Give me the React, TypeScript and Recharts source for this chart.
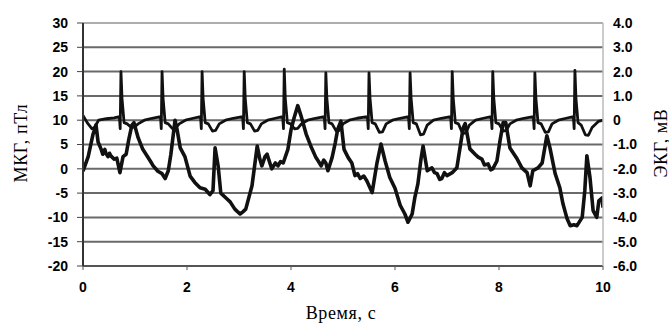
import React from "react";
import {
  LineChart,
  Line,
  XAxis,
  YAxis,
  CartesianGrid,
  ReferenceLine,
} from "recharts";

// МКГ trace, pT
const mcgTime = [
  0, 0.1, 0.19, 0.25, 0.29, 0.35, 0.38, 0.42, 0.44, 0.48, 0.51, 0.54, 0.6, 0.65,
  0.71, 0.77, 0.83, 0.88, 0.94, 0.98, 1.06, 1.15, 1.23, 1.3, 1.35, 1.44, 1.52,
  1.58, 1.64, 1.69, 1.77, 1.81, 1.87, 1.96, 2.06, 2.15, 2.25, 2.35, 2.44, 2.5,
  2.54, 2.6, 2.65, 2.75, 2.83, 2.92, 3.02, 3.08, 3.13, 3.25, 3.35, 3.4, 3.44,
  3.5, 3.54, 3.6, 3.63, 3.7, 3.75, 3.8, 3.85, 3.94, 4.0, 4.06, 4.13, 4.19, 4.29,
  4.38, 4.48, 4.53, 4.58, 4.63, 4.67, 4.71, 4.79, 4.85, 4.9, 4.96, 5.02, 5.1,
  5.17, 5.23, 5.28, 5.33, 5.4, 5.46, 5.56, 5.65, 5.73, 5.81, 5.9, 6.0, 6.1,
  6.19, 6.25, 6.33, 6.38, 6.44, 6.5, 6.54, 6.62, 6.71, 6.76, 6.81, 6.86, 6.9,
  6.95, 7.0, 7.1, 7.19, 7.25, 7.31, 7.35, 7.44, 7.54, 7.6, 7.67, 7.72, 7.79,
  7.84, 7.88, 7.96, 8.02, 8.08, 8.13, 8.21, 8.35, 8.44, 8.54, 8.6, 8.65, 8.75,
  8.83, 8.92, 8.98, 9.08, 9.17, 9.23, 9.31, 9.37, 9.44, 9.5, 9.6, 9.65, 9.69,
  9.75, 9.81, 9.88, 9.92, 9.98, 10,
];
const mcgValue = [
  -0.5, 2.5, 7, 9, 5.5, 4, 3, 4, 3.2, 2.5, 3.2, 2.6, 2, 2.2, -0.8, 2.5, 3, 6, 9,
  9.5, 6.4, 4, 2.7, 1.5, 0.6, -0.5, -1, -2, -0.4, 3, 10, 8, 4.3, 2.5, -1.5,
  -2.8, -3.9, -4.2, -5.3, -4.5, 4.3, 0.5, -5, -6, -6.8, -8.3, -9.3, -8.8, -8.3,
  -3.5, 4.7, 2, 0.6, 2.5, 3, 1, 0, 1.2, 0.6, 1.5, 1.2, 4, 8, 10.5, 13, 11, 7.2,
  4.7, 2.3, 1.5, 0.6, 1.8, 1.2, -0.4, 2.3, 5.3, 8.2, 9.8, 4, 2.3, 1.2, -1.4,
  -1, -2, -1.5, -2.5, -4.9, 1, 5.1, 1.6, -1.8, -4, -7.5, -9.3, -11, -9.3, -6,
  -3.1, 2, 4.7, -0.4, 0.2, -0.8, -1, -2.2, -2, -0.8, -1.4, -0.8, 0.2, 4.3, 8.4,
  9.3, 4.1, 3, 2.4, 2, 0.8, 1, -0.2, 0, 1.6, 5.8, 9.5, 9.5, 4.3, 2, 0.2, -0.8,
  -3.5, -0.4, 0.2, 1.2, 6.8, 4.3, -1, -3.9, -7.2, -10.3, -11.7, -11.5, -11.7,
  -10, -4.5, 2.7, -1.8, -8.6, -10, -6.6, -6, -8,
];

// ЭКГ trace, mV
const ecgTime = [
  0, 0.08, 0.17, 0.22, 0.3, 0.45, 0.6,
  0.7, 0.715, 0.73, 0.75, 0.77, 0.79, 0.85, 0.93, 0.99, 1.06, 1.18, 1.33,
  1.49, 1.505, 1.52, 1.54, 1.56, 1.58, 1.64, 1.72, 1.78, 1.85, 1.97, 2.12,
  2.26, 2.275, 2.29, 2.31, 2.33, 2.35, 2.41, 2.49, 2.55, 2.62, 2.74, 2.89,
  3.07, 3.085, 3.1, 3.12, 3.14, 3.16, 3.22, 3.3, 3.36, 3.43, 3.55, 3.7,
  3.84, 3.855, 3.87, 3.89, 3.91, 3.93, 3.99, 4.07, 4.13, 4.2, 4.32, 4.47,
  4.64, 4.655, 4.67, 4.69, 4.71, 4.73, 4.79, 4.87, 4.93, 5.0, 5.12, 5.27,
  5.47, 5.485, 5.5, 5.52, 5.54, 5.56, 5.62, 5.7, 5.76, 5.83, 5.95, 6.1,
  6.26, 6.275, 6.29, 6.31, 6.33, 6.35, 6.41, 6.49, 6.55, 6.62, 6.74, 6.89,
  7.07, 7.085, 7.1, 7.12, 7.14, 7.16, 7.22, 7.3, 7.36, 7.43, 7.55, 7.7,
  7.85, 7.865, 7.88, 7.9, 7.92, 7.94, 8.0, 8.08, 8.14, 8.21, 8.33, 8.48,
  8.66, 8.675, 8.69, 8.71, 8.73, 8.75, 8.81, 8.89, 8.95, 9.02, 9.14, 9.29,
  9.43, 9.445, 9.46, 9.48, 9.5, 9.52, 9.58, 9.66, 9.72, 9.79, 9.91, 10,
];
const ecgValue = [
  0.2, -0.1, -0.35, -0.3, 0.0, 0.06, 0.1,
  0.15, -0.35, 2.0, 0.9, 0.4, -0.1, -0.15, -0.3, -0.28, -0.15, 0.0, 0.08,
  0.15, -0.35, 2.0, 0.9, 0.4, -0.1, -0.15, -0.35, -0.33, -0.15, 0.0, 0.08,
  0.15, -0.35, 2.0, 0.9, 0.4, -0.1, -0.15, -0.45, -0.42, -0.15, 0.0, 0.08,
  0.15, -0.35, 2.0, 0.9, 0.4, -0.1, -0.15, -0.45, -0.42, -0.15, 0.0, 0.08,
  0.15, -0.35, 2.1, 0.9, 0.4, -0.1, -0.15, -0.36, -0.34, -0.15, 0.0, 0.08,
  0.15, -0.35, 1.95, 0.9, 0.4, -0.1, -0.15, -0.45, -0.42, -0.15, 0.0, 0.08,
  0.15, -0.35, 1.95, 0.9, 0.4, -0.1, -0.15, -0.5, -0.48, -0.15, 0.0, 0.08,
  0.15, -0.35, 1.95, 0.9, 0.4, -0.1, -0.15, -0.6, -0.57, -0.2, 0.0, 0.08,
  0.15, -0.35, 2.0, 0.9, 0.4, -0.1, -0.15, -0.55, -0.52, -0.2, 0.0, 0.08,
  0.15, -0.35, 2.0, 0.9, 0.4, -0.1, -0.15, -0.45, -0.42, -0.15, 0.0, 0.08,
  0.15, -0.35, 1.95, 0.9, 0.4, -0.1, -0.15, -0.5, -0.48, -0.15, 0.0, 0.08,
  0.15, -0.35, 2.05, 0.9, 0.4, -0.1, -0.2, -0.6, -0.62, -0.3, -0.05, 0.0,
];

const xTicks = [0, 2, 4, 6, 8, 10];
const mcgTicks = [-20, -15, -10, -5, 0, 5, 10, 15, 20, 25, 30];
const ecgTicks = [-6, -5, -4, -3, -2, -1, 0, 1, 2, 3, 4];

const mcgData = mcgTime.map((t, i) => ({ t, v: mcgValue[i] }));
const ecgData = ecgTime.map((t, i) => ({ t, v: ecgValue[i] }));

const tickFont = {
  fontFamily: "Liberation Sans, Arial, sans-serif",
  fontSize: 14,
  fontWeight: 700,
  fill: "#000",
};

const titleStyle: React.CSSProperties = {
  position: "absolute",
  fontFamily: "Liberation Serif, Times New Roman, serif",
  fontSize: 18,
  letterSpacing: 0.6,
  color: "#000",
  whiteSpace: "nowrap",
  transform: "translate(-50%, -50%)",
};

export default function App() {
  return (
    <div style={{ position: "absolute", left: 0, top: 0, width: 669, height: 323, background: "#fff", overflow: "hidden" }}>
      <LineChart width={669} height={323} margin={{ top: 23, right: 0, bottom: 0, left: 0 }}>
        <CartesianGrid horizontal vertical={false} stroke="#6a6a6a" strokeWidth={2} yAxisId="mcg" />
        <XAxis
          dataKey="t"
          type="number"
          domain={[0, 10]}
          ticks={xTicks}
          height={57}
          allowDataOverflow
          axisLine={{ stroke: "#555", strokeWidth: 2 }}
          tickLine={{ stroke: "#555" }}
          tickSize={4}
          tickMargin={12}
          tick={tickFont}
        />
        <YAxis
          yAxisId="mcg"
          domain={[-20, 30]}
          ticks={mcgTicks}
          width={83}
          axisLine={{ stroke: "#333", strokeWidth: 2 }}
          tickLine={{ stroke: "#444" }}
          tickSize={6}
          tickMargin={9}
          tick={tickFont}
        />
        <YAxis
          yAxisId="ecg"
          orientation="right"
          domain={[-6, 4]}
          ticks={ecgTicks}
          width={66}
          axisLine={{ stroke: "#bbb", strokeWidth: 1.5 }}
          tickLine={false}
          tickSize={4}
          tickMargin={6}
          tick={{ ...tickFont, textAnchor: "start" }}
          tickFormatter={(v: number) => (v === 0 ? "0" : v.toFixed(1))}
        />
        <ReferenceLine yAxisId="mcg" y={30} stroke="#c4c4c4" strokeWidth={1.5} />
        <Line
          yAxisId="ecg"
          data={ecgData}
          dataKey="v"
          type="linear"
          stroke="#111"
          strokeWidth={2.8}
          strokeLinejoin="round"
          dot={false}
          isAnimationActive={false}
        />
        <Line
          yAxisId="mcg"
          data={mcgData}
          dataKey="v"
          type="linear"
          stroke="#111"
          strokeWidth={3.6}
          strokeLinejoin="round"
          dot={false}
          isAnimationActive={false}
        />
      </LineChart>
      <div style={{ ...titleStyle, left: 341, top: 313 }}>Время, с</div>
      <div style={{ ...titleStyle, left: 21, top: 143, transform: "translate(-50%, -50%) rotate(-90deg)" }}>
        МКГ, пТл
      </div>
      <div style={{ ...titleStyle, left: 661, top: 143, transform: "translate(-50%, -50%) rotate(-90deg)" }}>
        ЭКГ, мВ
      </div>
    </div>
  );
}
